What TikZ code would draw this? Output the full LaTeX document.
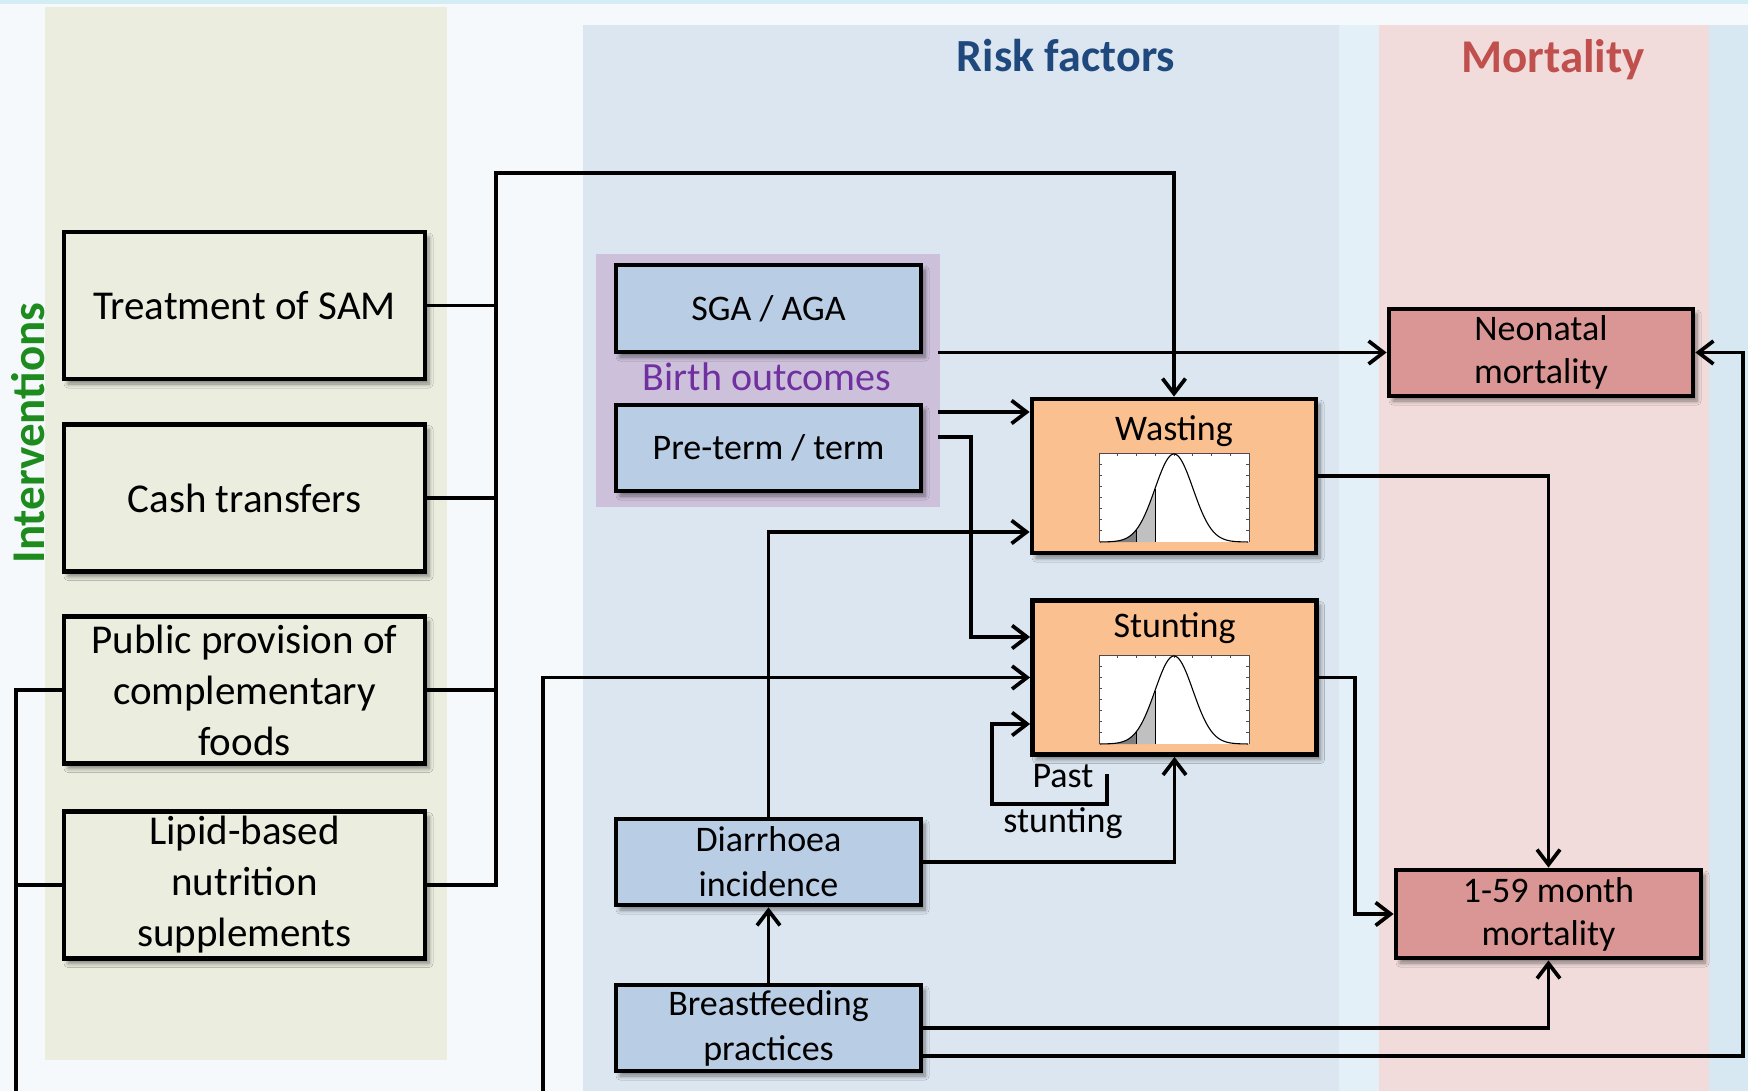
\documentclass[tikz,border=0pt]{standalone}
\usepackage{fontspec}
\setmainfont{Carlito}
\usetikzlibrary{arrows.meta,shadows.blur}

\definecolor{pagebg}{HTML}{F5F9FC}
\definecolor{topband}{HTML}{D2EEF4}
\definecolor{gappale}{HTML}{E3F0F7}
\definecolor{edgeblue}{HTML}{D8E8F2}
\definecolor{intpanel}{HTML}{EBEEDF}
\definecolor{riskpanel}{HTML}{DCE6F0}
\definecolor{mortpanel}{HTML}{F2DCDB}
\definecolor{birthpanel}{HTML}{CCC0DA}
\definecolor{intfill}{HTML}{EBEEDF}
\definecolor{riskfill}{HTML}{B9CDE5}
\definecolor{nutfill}{HTML}{FAC090}
\definecolor{mortfill}{HTML}{D99694}
\definecolor{inttitle}{HTML}{1E8B1E}
\definecolor{risktitle}{HTML}{1F497D}
\definecolor{morttitle}{HTML}{C0504D}
\definecolor{birthtitle}{HTML}{7030A0}
\definecolor{taildark}{HTML}{808080}
\definecolor{taillight}{HTML}{C0C0C0}

% small normal-distribution plot; #1,#2 = top-left corner
\newcommand\bellchart[2]{%
  \begin{scope}[shift={(#1,#2)}]
    \fill[white] (0,0) rectangle (150,89);
    \fill[taildark] plot[domain=-3.9:-2,samples=30]
      ({75+19*\x},{89-88*exp(-0.5*(\x)*(\x))}) -- (37,89) -- (0.9,89) -- cycle;
    \fill[taillight] plot[domain=-2:-1,samples=20]
      ({75+19*\x},{89-88*exp(-0.5*(\x)*(\x))}) -- (56,89) -- (37,89) -- cycle;
    \draw[line width=0.8pt] (37,89) -- (37,77.1);
    \draw[line width=0.8pt] (56,89) -- (56,35.6);
    \draw[gray!60!black, line width=0.8pt] (0,89) -- (0,0) -- (150,0) -- (150,89);
    \foreach \t in {11.1,22.2,...,80} {
      \draw[gray!60!black, line width=0.6pt] (0,\t) -- (3,\t);
      \draw[gray!60!black, line width=0.6pt] (150,\t) -- (147,\t);
    }
    \foreach \t in {18.75,37.5,...,140} {
      \draw[gray!60!black, line width=0.6pt] (\t,0) -- (\t,3);
    }
    \draw[line width=1.1pt] plot[domain=-3.9:3.9,samples=120]
      ({75+19*\x},{89-88*exp(-0.5*(\x)*(\x))});
  \end{scope}%
}

\begin{document}
\begin{tikzpicture}[x=1pt,y=-1pt,
  box/.style={draw=black, line width=4.8pt, align=center, inner sep=0pt,
    blur shadow={shadow xshift=4pt, shadow yshift=-5pt,
      shadow blur radius=4pt, shadow blur steps=6, shadow opacity=45}},
  intbox/.style={box, fill=intfill, minimum width=361pt, minimum height=147pt,
    font=\fontsize{41}{51}\selectfont},
  riskbox/.style={box, fill=riskfill, minimum width=305pt, minimum height=87pt,
    font=\fontsize{36}{45}\selectfont},
  nutbox/.style={box, fill=nutfill, minimum width=284pt, minimum height=154pt,
    font=\fontsize{36}{45}\selectfont},
  mortbox/.style={box, fill=mortfill, minimum width=305pt, minimum height=88pt,
    font=\fontsize{36}{43}\selectfont},
  paneltitle/.style={font=\fontsize{46}{55}\selectfont\bfseries, anchor=base},
  conn/.style={draw=black, line width=3.7pt},
  arr/.style={conn, -{Straight Barb[length=15pt,width=23pt]}},
]
\useasboundingbox (0,0) rectangle (1748,1091);

% background panels
\fill[pagebg] (0,0) rectangle (1748,1091);
\fill[topband] (0,0) rectangle (1748,4);
\fill[gappale] (1339,25) rectangle (1379,1091);
\fill[edgeblue] (1709,25) rectangle (1748,1091);
\fill[intpanel] (45,7) rectangle (447,1060);
\fill[riskpanel] (583,25) rectangle (1339,1091);
\fill[mortpanel] (1379,25) rectangle (1709,1091);
\fill[birthpanel] (596,254) rectangle (940,507);

% panel titles
\node[font=\fontsize{47}{56}\selectfont\bfseries, text=inttitle, rotate=90]
  (tint) at (28,433) {Interventions};
\node[paneltitle, text=risktitle] (trisk) at (1066,72) {Risk factors};
\node[paneltitle, text=morttitle, font=\fontsize{47}{56}\selectfont\bfseries]
  (tmort) at (1553,73) {Mortality};
\node[font=\fontsize{40}{48}\selectfont, text=birthtitle, anchor=base]
  (tbirth) at (767,390) {Birth outcomes};

% interventions
\node[intbox] (treat) at (244.5,305.5) {Treatment of SAM};
\node[intbox] (cash)  at (244.5,498)   {Cash transfers};
\node[intbox] (pub)   at (244.5,690)   {Public provision of\\complementary\\foods};
\node[intbox] (lipid) at (244.5,885)   {Lipid-based\\nutrition\\supplements};

% risk factors
\node[riskbox] (sga)    at (768.5,308.5) {SGA / AGA};
\node[riskbox, minimum height=86pt] (pre)    at (768.5,448)  {Pre-term / term};
\node[riskbox, minimum height=86pt] (diar)   at (768.5,862)  {Diarrhoea\\incidence};
\node[riskbox, minimum height=86pt] (breast) at (768.5,1028) {Breastfeeding\\practices};

\node[nutbox, text height=41pt, text depth=113pt] (wasting)  at (1174,476)    {Wasting};
\node[nutbox, text height=37pt, text depth=117pt] (stunting) at (1174.5,677.5) {Stunting};
\bellchart{1099}{453}
\bellchart{1099}{655}

% mortality
\node[mortbox, minimum width=304pt, minimum height=87pt] (neo) at (1541,352.5) {Neonatal\\mortality};
\node[mortbox] (m159) at (1548.5,914) {1-59 month\\mortality};

% past stunting label
\node[font=\fontsize{36}{45}\selectfont, anchor=base] (pastA) at (1063,787) {Past};
\node[font=\fontsize{36}{45}\selectfont, anchor=base] (pastB) at (1063,832) {stunting};

% free ends of connectors
\coordinate (bustop)  at (496,173);
\coordinate (lbus)    at (16,1091);
\coordinate (cfoot)   at (543,1091);
\coordinate (sgaout)  at (938,352.5);
\coordinate (preA)    at (938,412);
\coordinate (preB)    at (938,437);
\coordinate (rbus)    at (1743,0);
\coordinate (pastend) at (1107,774);

% interventions feed into wasting
\draw[conn] (treat.east) -- (treat.east -| bustop);
\draw[conn] (cash.east) -- (cash.east -| bustop);
\draw[conn] (pub.east) -- (pub.east -| bustop);
\draw[arr] (lipid.east) -| (bustop) -| (wasting.north);

% left-hand link of complementary foods and supplements
\draw[conn] (pub.west) -| (lbus);
\draw[conn] (lipid.west) -- (lipid.west -| lbus);
\draw[arr] (cfoot) |- (stunting.west);

% birth outcomes
\draw[arr] (sgaout) -- (neo.west);
\draw[arr] (preA) -- (preA -| wasting.west);
\draw[arr] (preB) -- ++(33,0) |- ([yshift=40.5pt]stunting.west);

% diarrhoea and breastfeeding
\draw[arr] (diar.north) |- ([yshift=-56pt]wasting.west);
\draw[arr] (diar.east) -| (stunting.south);
\draw[arr] (breast.north) -- (diar.south);
\draw[arr] (breast.east) -| (m159.south);
\draw[arr] ([yshift=-28pt]breast.east) -| (rbus |- neo.east) -- (neo.east);

% anthropometry to mortality
\draw[arr] (wasting.east) -| (m159.north);
\draw[arr] (stunting.east) -- ++(36,0) |- (m159.west);

% past stunting loop
\draw[arr] (pastend) -- ++(0,30) -- ++(-115,0) |- ([yshift=-46.5pt]stunting.west);
\end{tikzpicture}
\end{document}
